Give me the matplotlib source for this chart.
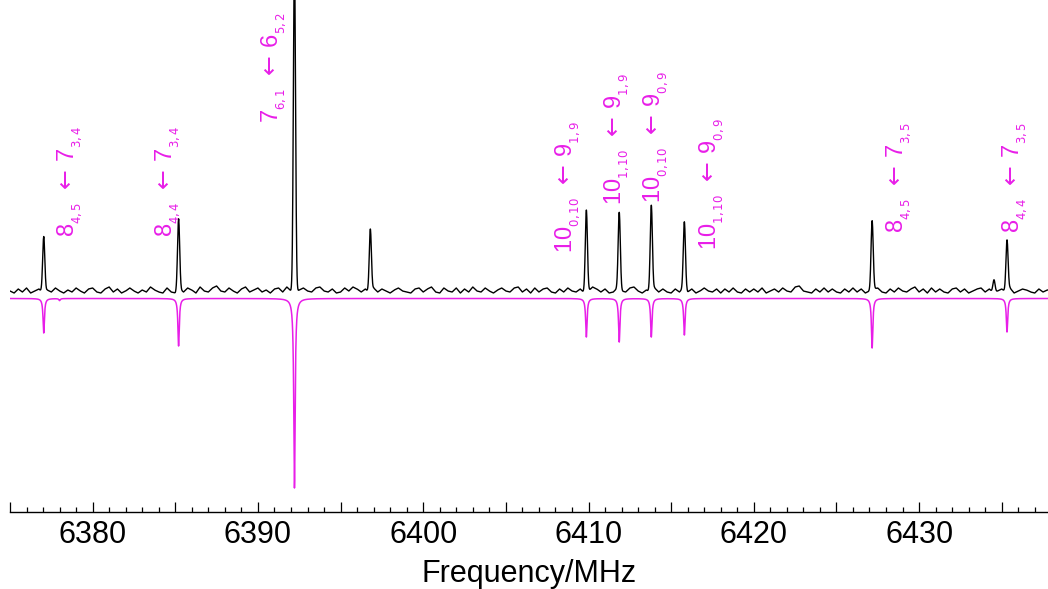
import numpy as np
import matplotlib
matplotlib.use("Agg")
import matplotlib.pyplot as plt
from matplotlib.ticker import MultipleLocator, FuncFormatter

plt.rcParams["font.family"] = ["Liberation Sans", "DejaVu Sans"]
plt.rcParams["mathtext.fontset"] = "dejavusans"

# Observed lines (MHz) and their intensities (arbitrary units)
exp_freq = [6377.04, 6385.20, 6392.21, 6396.80, 6409.87, 6411.86,
            6413.80, 6415.80, 6427.16, 6434.53, 6435.32]
exp_int = [56, 71, 330, 63, 82, 77, 86, 67, 69, 13, 51]

# Simulated lines (MHz) and intensities, drawn downward
sim_freq = [6377.04, 6378.00, 6385.20, 6392.21, 6409.87, 6411.86,
            6413.80, 6415.80, 6427.16, 6435.32]
sim_int = [34.5, 2.0, 47.5, 189.5, 38.5, 43.5, 38.5, 36.5, 49.5, 33.5]

# Baseline noise of the recorded trace, one value every 0.25 MHz from 6375 MHz
noise_start = 6375.0
noise_step = 0.25
noise = [
    0, -2, 2, -1, 3, -2, 0, 2, -2, 1, -1, 3, 0, -2, 1, -1, 3, 0, -2, 2,
    3, -1, -2, 2, 4, -1, 2, -2, 0, 3, 0, -2, 1, -1, 4, 1, -1, -2, 3, -1,
    -2, 2, -1, 3, 1, -2, 4, 0, -1, 3, 5, 0, -1, 3, 0, -2, 2, 4, -1, 1,
    3, -1, 1, -2, 2, 3, -1, 4, 0, -2, 1, 3, 0, -1, 3, 4, 0, -1, 2, -2,
    -1, 3, 0, 4, 2, -1, 2, -2, 3, -1, 2, 0, -2, 1, 3, 0, -1, -2, 2, 3,
    -1, 2, 4, -1, -2, 3, 0, -1, 3, -2, 2, -1, 4, 0, -1, 3, 0, -2, 1, 3,
    0, -1, 3, 4, -1, 2, -2, 3, -1, 2, 3, -1, -2, 2, -1, 3, 0, -1, 2, -2,
    0, 4, 2, -1, 2, -2, -1, 3, 0, -1, 3, 4, 0, -2, 1, -1, 3, -1, 2, -1,
    -2, 2, -1, 3, -1, 2, -2, 0, 3, 0, -1, 2, -2, 2, -1, 3, -1, -2, 2, -1,
    2, -1, 3, -2, 0, 2, -1, 3, 0, -1, 4, 5, 0, -1, -2, 2, -1, 3, -1, 2,
    -1, -2, 2, -1, 3, -1, 2, -2, 0, 2, 3, -1, -2, 2, -1, 3, 0, -1, 2, 4,
    -1, 2, -2, 3, -1, 2, -1, -2, 2, 3, -1, 2, -2, 0, 2, 3, -1, 2, -2, 0,
    2, -1, 3, -2, 0, 2, 1, -1, -2, 2, -1, 1,
]

# Transition assignments: (upper J, upper Ka,Kc, lower J, lower Ka,Kc)
transitions = [
    ("8", "4,5", "7", "3,4"),
    ("8", "4,4", "7", "3,4"),
    ("7", "6,1", "6", "5,2"),
    ("10", "0,10", "9", "1,9"),
    ("10", "1,10", "9", "1,9"),
    ("10", "0,10", "9", "0,9"),
    ("10", "1,10", "9", "0,9"),
    ("8", "4,5", "7", "3,5"),
    ("8", "4,4", "7", "3,5"),
]
# Anchor (x, bottom) of each rotated label
label_anchor = [
    (6378.58, 54), (6384.56, 54), (6390.94, 168), (6408.72, 38),
    (6411.68, 86), (6414.04, 88), (6417.45, 41), (6428.76, 58),
    (6435.80, 58),
]

x_lo, x_hi = 6375.0, 6437.8
sim_offset = -7.5
magenta = "#e81ee8"

# Line profiles evaluated on a fine frequency grid
grid = np.arange(x_lo, x_hi + 0.005, 0.01)
noise_x = noise_start + noise_step * np.arange(len(noise))
exp_trace = np.interp(grid, noise_x, noise).astype(float)
sigma = 0.065
for f, a in zip(exp_freq, exp_int):
    exp_trace += a * np.exp(-0.5 * ((grid - f) / sigma) ** 2)

hw = 0.05
sim_trace = np.full_like(grid, sim_offset)
for f, a in zip(sim_freq, sim_int):
    sim_trace -= a * hw ** 2 / ((grid - f) ** 2 + hw ** 2)

fig = plt.figure(figsize=(10.48, 5.89), dpi=100)
ax = fig.add_axes([10 / 1048, 77 / 589, 1 - 10 / 1048, 512 / 589])

ax.plot(grid, exp_trace, color="black", lw=1.0, zorder=3)
ax.plot(grid, sim_trace, color=magenta, lw=1.1, zorder=2)

for (lx, ly), (ju, ku, jl, kl) in zip(label_anchor, transitions):
    s = f"{ju}$_{{_{{{ku}}}}}\\ \\leftarrow\\,${jl}$_{{_{{{kl}}}}}$"
    ax.text(lx, ly, s, rotation=90, ha="center", va="bottom",
            color=magenta, fontsize=17)

ax.set_xlim(x_lo, x_hi)
ax.set_ylim(-221, 291)

for side in ("top", "left", "right"):
    ax.spines[side].set_visible(False)
ax.spines["bottom"].set_linewidth(1.0)
ax.set_yticks([])

ax.xaxis.set_major_locator(MultipleLocator(5))
ax.xaxis.set_minor_locator(MultipleLocator(1))
ax.xaxis.set_major_formatter(
    FuncFormatter(lambda v, p: f"{v:.0f}" if round(v) % 10 == 0 else ""))
ax.tick_params(axis="x", which="major", direction="in", length=7.5,
               width=0.9, labelsize=22, pad=6)
ax.tick_params(axis="x", which="minor", direction="in", length=3.6,
               width=0.9)
ax.set_xlabel("Frequency/MHz", fontsize=22, labelpad=6)

fig.savefig("out.png", dpi=100)
